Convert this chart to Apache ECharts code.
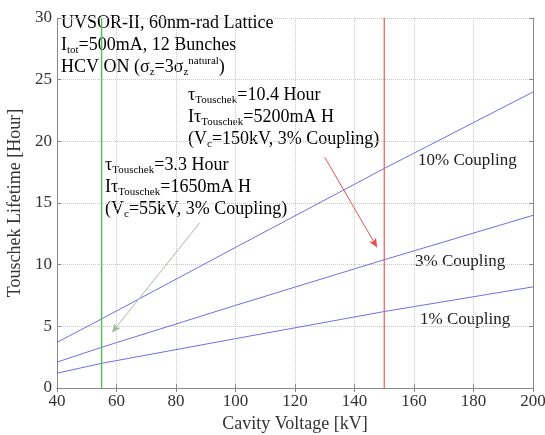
<!DOCTYPE html>
<html>
<head>
<meta charset="utf-8">
<script src="https://cdn.jsdelivr.net/npm/echarts@6/dist/echarts.min.js"></script>
<style>
  html, body { margin: 0; padding: 0; background: #fff; }
  #main { width: 545px; height: 435px; }
</style>
</head>
<body>
<div id="main"></div>
<script>
// cavity voltage [kV] and Touschek lifetime [Hour]
var voltage = [40, 55, 100, 150, 200];
var coupling10 = [3.7, 5.6, 11.4, 17.8, 24.0];
var coupling3 = [2.1, 3.3, 6.7, 10.4, 14.0];
var coupling1 = [1.2, 2.0, 4.0, 6.2, 8.2];
var couplingNames = ['10% Coupling', '3% Coupling', '1% Coupling'];
var markVoltages = [55, 150];
var lifetimeRange = [0, 30];
// arrows: [fromV, fromH, toV, toH]
var redArrow = [130, 18.7, 147.6, 11.4];
var greenArrow = [88, 13.4, 58.5, 4.5];

var serif = '"Liberation Serif", "DejaVu Serif", serif';

function pairs(xs, ys) {
  var out = [];
  for (var i = 0; i < xs.length; i++) out.push([xs[i], ys[i]]);
  return out;
}

var richStyle = function (color) {
  return {
    m: { fontFamily: serif, fontSize: 18, color: color, lineHeight: 22 },
    s: { fontFamily: serif, fontSize: 11, color: color, lineHeight: 10, verticalAlign: 'bottom' },
    p: { fontFamily: serif, fontSize: 11, color: color, lineHeight: 10, verticalAlign: 'top' }
  };
};

var chart = echarts.init(document.getElementById('main'));

var lineSeries = function (name, data, color, width) {
  return {
    name: name,
    type: 'line',
    data: data,
    showSymbol: false,
    symbol: 'none',
    color: color,
    lineStyle: { color: color, width: width || 1 },
    silent: true,
    z: 3
  };
};

var labelStyle = { fontFamily: serif, fontSize: 17, color: '#333' };

chart.setOption({
  animation: false,
  grid: { left: 57, right: 12, top: 18, bottom: 47, outerBoundsMode: 'none', containLabel: false },
  xAxis: [{
    type: 'value', min: 40, max: 200, interval: 20,
    name: 'Cavity Voltage [kV]', nameLocation: 'middle', nameGap: 27,
    nameTextStyle: { fontFamily: serif, fontSize: 18, color: '#333' },
    axisLine: { lineStyle: { color: '#888' } },
    axisTick: { inside: true, length: 4, lineStyle: { color: '#888' } },
    axisLabel: Object.assign({ margin: 5 }, labelStyle),
    splitLine: { lineStyle: { type: 'dotted', color: '#c8c8c8' } }
  }, {
    type: 'value', min: 40, max: 200, interval: 20, position: 'top',
    axisLine: { show: true, lineStyle: { color: '#888' } },
    axisTick: { inside: true, length: 4, lineStyle: { color: '#888' } },
    axisLabel: { show: false },
    splitLine: { show: false }
  }],
  yAxis: [{
    type: 'value', min: 0, max: 30, interval: 5,
    name: 'Touschek Lifetime [Hour]', nameLocation: 'middle', nameGap: 28,
    nameTextStyle: { fontFamily: serif, fontSize: 18, color: '#333' },
    axisLine: { show: true, lineStyle: { color: '#888' } },
    axisTick: { show: true, inside: true, length: 4, lineStyle: { color: '#888' } },
    axisLabel: Object.assign({ margin: 5 }, labelStyle),
    splitLine: { lineStyle: { type: 'dotted', color: '#c8c8c8' } }
  }, {
    type: 'value', min: 0, max: 30, interval: 5, position: 'right',
    axisLine: { show: true, lineStyle: { color: '#888' } },
    axisTick: { show: true, inside: true, length: 4, lineStyle: { color: '#888' } },
    axisLabel: { show: false },
    splitLine: { show: false }
  }],
  series: [
    lineSeries(couplingNames[0], pairs(voltage, coupling10), '#6f6fe0'),
    lineSeries(couplingNames[1], pairs(voltage, coupling3), '#6f6fe0'),
    lineSeries(couplingNames[2], pairs(voltage, coupling1), '#6f6fe0'),
    lineSeries('55kV', [[markVoltages[0], lifetimeRange[0]], [markVoltages[0], lifetimeRange[1]]], '#50c050', 1.4),
    lineSeries('150kV', [[markVoltages[1], lifetimeRange[0]], [markVoltages[1], lifetimeRange[1]]], '#ec5a5a', 1.2),
    {
      type: 'line', data: [], silent: true,
      markLine: {
        symbol: 'none', silent: true, animation: false,
        label: { show: false },
        data: [
          [
            { coord: [redArrow[0], redArrow[1]], symbol: 'none',
              lineStyle: { color: '#e85050', type: 'solid', width: 1 } },
            { coord: [redArrow[2], redArrow[3]], symbol: 'arrow', symbolSize: [6, 9],
              itemStyle: { color: '#a01010' } }
          ],
          [
            { coord: [greenArrow[0], greenArrow[1]], symbol: 'none',
              lineStyle: { color: '#a8b8a8', type: 'solid', width: 1 } },
            { coord: [greenArrow[2], greenArrow[3]], symbol: 'arrow', symbolSize: [6, 9],
              itemStyle: { color: '#1e5a1e' } }
          ]
        ]
      }
    }
  ],
  graphic: [
    {
      type: 'text', left: 61, top: 14, silent: true,
      style: {
        text: '{m|UVSOR-II, 60nm-rad Lattice}\n{m|I}{s|tot}{m|=500mA, 12 Bunches}\n{m|HCV ON (σ}{s|z}{m|=3σ}{s|z}{p|natural}{m|)}',
        rich: richStyle('#222')
      }
    },
    {
      type: 'text', left: 188, top: 86, silent: true,
      style: {
        text: '{m|τ}{s|Touschek}{m|=10.4 Hour}\n{m|Iτ}{s|Touschek}{m|=5200mA H}\n{m|(V}{s|c}{m|=150kV, 3% Coupling)}',
        rich: richStyle('#f03c3c')
      }
    },
    {
      type: 'text', left: 105, top: 156, silent: true,
      style: {
        text: '{m|τ}{s|Touschek}{m|=3.3 Hour}\n{m|Iτ}{s|Touschek}{m|=1650mA H}\n{m|(V}{s|c}{m|=55kV, 3% Coupling)}',
        rich: richStyle('#30a030')
      }
    },
    { type: 'text', left: 418, top: 152, silent: true,
      style: { text: couplingNames[0], font: '17px ' + serif, fill: '#222' } },
    { type: 'text', left: 415, top: 253, silent: true,
      style: { text: couplingNames[1], font: '17px ' + serif, fill: '#222' } },
    { type: 'text', left: 420, top: 311, silent: true,
      style: { text: couplingNames[2], font: '17px ' + serif, fill: '#222' } }
  ]
});
</script>
</body>
</html>
